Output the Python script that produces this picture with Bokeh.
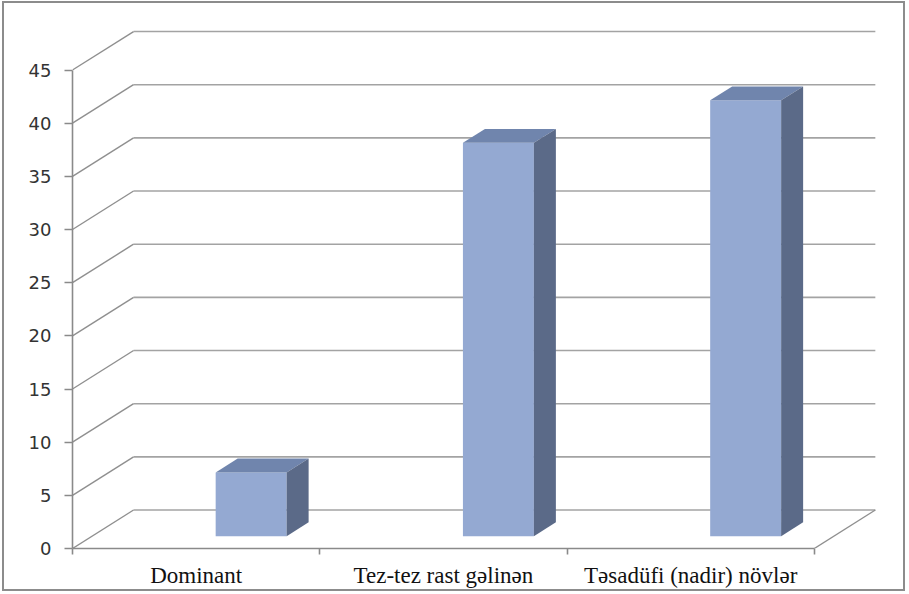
from bokeh.plotting import figure
from bokeh.models import Range1d, FixedTicker, ColumnDataSource
from bokeh.embed import file_html
from bokeh.resources import INLINE

# ---- data ----
categories = ["Dominant", "Tez-tez rast gəlinən", "Təsadüfi (nadir) növlər"]
values = [6, 37, 41]
y_ticks = [0, 5, 10, 15, 20, 25, 30, 35, 40, 45]

# ---- projection / style constants ----
DX = 0.247      # depth offset in category units
DY = 3.62       # depth offset in value units
D0, D1 = 0.32, 0.68   # bar depth span (fraction of depth)
BW = 0.287      # bar width in category units
YMAX = y_ticks[-1]
NCAT = len(categories)

FRONT = "#94a9d2"
TOP = "#7085ad"
SIDE = "#5b6a88"
GRID_BACK = "#a3a3a3"
GRID_DIAG = "#8f8f8f"

p = figure(width=903, height=590, output_backend="svg", toolbar_location=None,
           x_range=Range1d(0, 3.28), y_range=Range1d(0, 49),
           min_border_left=68, min_border_right=24, min_border_top=24, min_border_bottom=45)
p.grid.visible = False
p.outline_line_color = None
p.background_fill_color = "white"
p.border_fill_color = "white"
p.styles = {"border": "2px solid #8c8c8c", "margin-left": "2px", "margin-top": "1px"}

# back wall horizontal lines and left wall diagonals
for v in y_ticks:
    p.line([DX, NCAT + DX], [v + DY, v + DY], line_color=GRID_BACK, line_width=1.6)
    p.line([0, DX], [v, v + DY], line_color=GRID_DIAG, line_width=1.4)
# floor right edge
p.line([NCAT, NCAT + DX], [0, DY], line_color=GRID_DIAG, line_width=1.4)

# bars
front = dict(l=[], r=[], b=[], t=[])
tops_x, tops_y, sides_x, sides_y = [], [], [], []
for i, v in enumerate(values):
    x0 = i + 0.5
    fl = x0 + D0 * DX
    fr = x0 + BW + D0 * DX
    br = x0 + BW + D1 * DX
    bl = x0 + D1 * DX
    yb0 = D0 * DY
    yb1 = D1 * DY
    front["l"].append(fl); front["r"].append(fr)
    front["b"].append(yb0); front["t"].append(v + yb0)
    tops_x.append([fl, fr, br, bl]); tops_y.append([v + yb0, v + yb0, v + yb1, v + yb1])
    sides_x.append([fr, br, br, fr]); sides_y.append([yb0, yb1, v + yb1, v + yb0])

p.quad(left="l", right="r", bottom="b", top="t", source=ColumnDataSource(front),
       fill_color=FRONT, line_color=None)
p.patches(tops_x, tops_y, fill_color=TOP, line_color=None)
p.patches(sides_x, sides_y, fill_color=SIDE, line_color=None)

# y axis
ya = p.yaxis[0]
ya.bounds = (0, YMAX)
ya.ticker = FixedTicker(ticks=y_ticks)
ya.axis_line_color = "#8a8a8a"
ya.axis_line_width = 1.6
ya.major_tick_line_color = "#8a8a8a"
ya.major_tick_line_width = 1.6
ya.major_tick_out = 8
ya.major_tick_in = 0
ya.minor_tick_line_color = None
ya.major_label_standoff = 13
ya.major_label_text_font = "DejaVu Sans"
ya.major_label_text_font_size = "18px"
ya.major_label_text_color = "#333333"

# x axis
xa = p.xaxis[0]
xa.bounds = (0, NCAT)
centers = [i + 0.5 for i in range(NCAT)]
xa.ticker = FixedTicker(ticks=centers, minor_ticks=list(range(NCAT + 1)))
xa.major_label_overrides = {c: name for c, name in zip(centers, categories)}
xa.axis_line_color = "#8a8a8a"
xa.axis_line_width = 1.6
xa.major_tick_line_color = None
xa.major_tick_out = 0
xa.major_tick_in = 0
xa.minor_tick_line_color = "#8a8a8a"
xa.minor_tick_line_width = 1.6
xa.minor_tick_out = 6
xa.minor_tick_in = 0
xa.major_label_standoff = 8
xa.major_label_text_font = "Liberation Serif"
xa.major_label_text_font_size = "23px"
xa.major_label_text_color = "#111111"

open("out.html", "w").write(file_html(p, INLINE))
